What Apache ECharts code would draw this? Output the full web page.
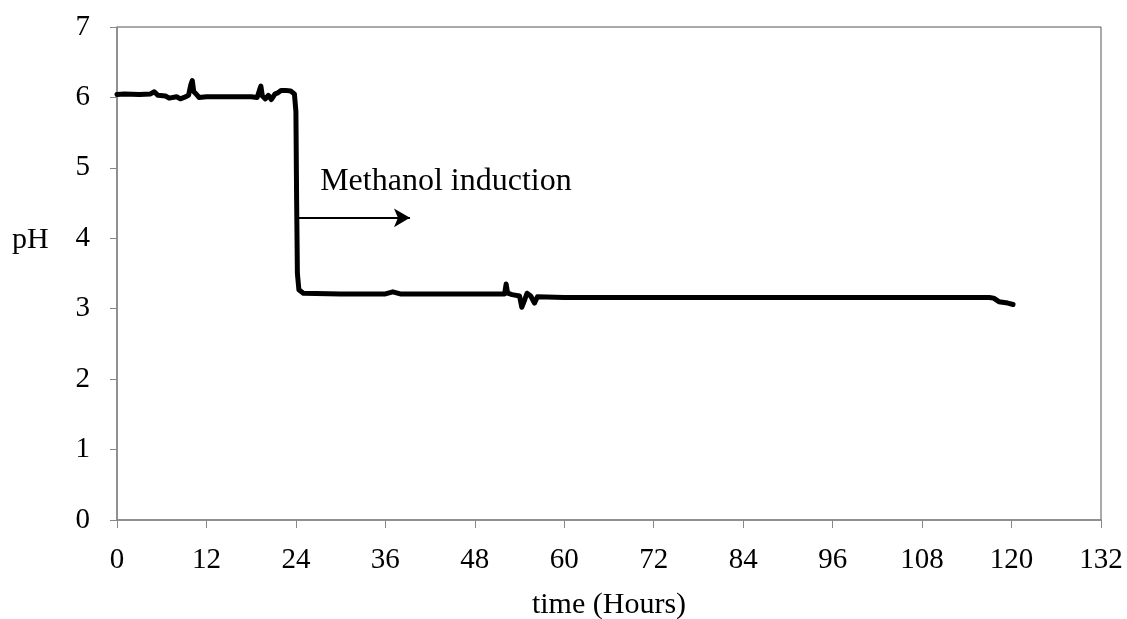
<!DOCTYPE html>
<html>
<head>
<meta charset="utf-8">
<script src="https://cdn.jsdelivr.net/npm/echarts@6/dist/echarts.min.js"></script>
<style>
  html, body { margin: 0; padding: 0; background: #fff; }
  #chart { width: 1127px; height: 619px; }
</style>
</head>
<body>
<div id="chart"></div>
<script>
// pH record of the fermentation run (time in hours)
const hours = [0, 1, 3, 4.5, 5, 5.5, 6.5, 7, 8, 8.5, 9, 9.6, 9.9, 10.1, 10.3, 10.6, 11, 12, 15, 18, 18.8, 19.1, 19.3, 19.5, 19.9, 20.3, 20.7, 21.2, 21.5, 22.0, 22.6, 23.3, 23.8, 24.0, 24.1, 24.2, 24.4, 25, 30, 36, 37, 38, 45, 50, 52, 52.2, 52.4, 53, 54, 54.3, 54.6, 55, 55.5, 56, 56.4, 60, 80, 100, 117, 117.6, 118.3, 119.5, 120.2];
const ph = [6.04, 6.05, 6.04, 6.05, 6.08, 6.03, 6.02, 5.99, 6.01, 5.98, 6.0, 6.03, 6.18, 6.24, 6.08, 6.05, 6.0, 6.01, 6.01, 6.01, 6.0, 6.1, 6.16, 6.02, 5.98, 6.03, 5.97, 6.05, 6.06, 6.1, 6.1, 6.09, 6.05, 5.8, 4.5, 3.5, 3.27, 3.22, 3.21, 3.21, 3.24, 3.21, 3.21, 3.21, 3.21, 3.35, 3.22, 3.2, 3.18, 3.02, 3.1, 3.22, 3.18, 3.08, 3.17, 3.16, 3.16, 3.16, 3.16, 3.15, 3.1, 3.08, 3.06];

const xTicks = [0, 12, 24, 36, 48, 60, 72, 84, 96, 108, 120, 132];
const yTicks = [0, 1, 2, 3, 4, 5, 6, 7];

// Methanol induction marker: arrow start/end (hours) and level (pH)
const inductionLabel = 'Methanol induction';
const arrowFrom = [24.3, 4.29];
const arrowTo = [39.3, 4.29];

const serif = '"Liberation Serif", "DejaVu Serif", serif';

const chart = echarts.init(document.getElementById('chart'), null, { renderer: 'canvas' });

chart.setOption({
  animation: false,
  backgroundColor: '#ffffff',
  grid: {
    left: 117, right: 26, top: 27, bottom: 99,
    containLabel: false, outerBoundsMode: 'none',
    show: true, borderColor: '#555', borderWidth: 1, backgroundColor: 'transparent'
  },
  xAxis: {
    type: 'value',
    min: xTicks[0], max: xTicks[xTicks.length - 1], interval: 12,
    name: 'time (Hours)', nameLocation: 'middle', nameGap: 70,
    nameTextStyle: { fontFamily: serif, fontSize: 30, color: '#000' },
    axisLine: { show: true, lineStyle: { color: '#888', width: 1.5 } },
    axisTick: { show: true, inside: false, length: 8, lineStyle: { color: '#888' } },
    axisLabel: { fontFamily: serif, fontSize: 29, color: '#000', margin: 26 },
    splitLine: { show: false }
  },
  yAxis: {
    type: 'value',
    min: yTicks[0], max: yTicks[yTicks.length - 1], interval: 1,
    axisLine: { show: true, lineStyle: { color: '#888', width: 1.5 } },
    axisTick: { show: true, inside: false, length: 7, lineStyle: { color: '#888' } },
    axisLabel: { fontFamily: serif, fontSize: 29, color: '#000', margin: 27 },
    splitLine: { show: false }
  },
  graphic: [{
    type: 'text', left: 12, top: 225,
    style: { text: 'pH', fontFamily: serif, fontSize: 30, fill: '#000' }
  }],
  series: [{
    type: 'line',
    data: hours.map((h, i) => [h, ph[i]]),
    showSymbol: false,
    symbol: 'none',
    lineStyle: { color: '#000', width: 5, join: 'round', cap: 'round' },
    markLine: {
      silent: true,
      symbol: ['none', 'arrow'],
      symbolSize: [14, 16],
      lineStyle: { color: '#000', width: 2, type: 'solid' },
      label: {
        show: true, position: 'start', formatter: inductionLabel,
        fontFamily: serif, fontSize: 32, color: '#000',
        align: 'left', verticalAlign: 'middle', offset: [27, -36]
      },
      data: [[{ coord: arrowFrom }, { coord: arrowTo }]]
    }
  }]
});
</script>
</body>
</html>
